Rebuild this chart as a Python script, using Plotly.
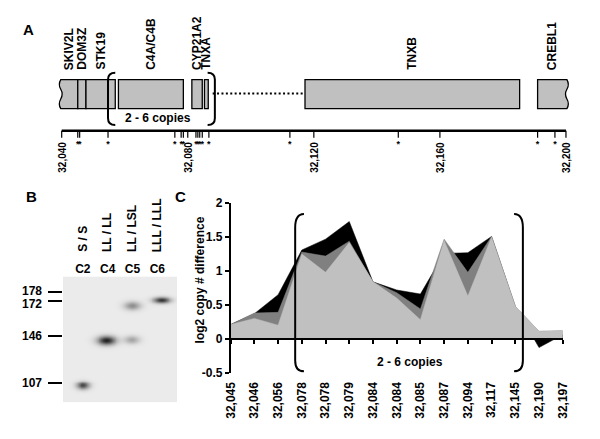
import numpy as np
import plotly.graph_objects as go

W, H = 600, 439
FONT = "Liberation Sans, Arial, Helvetica, sans-serif"

# ---------------- Panel A data (gene map, kb) ----------------
gene_names = ["SKIV2L", "DOM3Z", "STK19", "C4A/C4B", "CYP21A2", "TNXA", "TNXB", "CREBL1"]
gene_start_kb = [32039.7, 32045.1, 32047.7, 32058.0, 32081.3, 32085.3, 32117.2, 32191.0]
gene_end_kb = [32045.1, 32047.7, 32057.0, 32078.6, 32084.6, 32086.5, 32185.3, 32200.3]
gap_kb = [32087.9, 32117.2]
copy_region_kb = [32054.7, 32088.6]
scale_ticks_kb = [32040, 32080, 32120, 32160, 32200]
scale_tick_labels = ["32,040", "32,080", "32,120", "32,160", "32,200"]
probe_map_kb = [32045.1, 32045.7, 32054.7, 32075.9, 32077.9, 32078.6, 32082.6, 32083.2,
                32083.8, 32084.6, 32086.7, 32112.4, 32146.8, 32191.0, 32196.5]

# ---------------- Panel B data (gel) ----------------
lane_names = ["C2", "C4", "C5", "C6"]
lane_genotypes = ["S / S", "LL / LL", "LL / LSL", "LLL / LLL"]
marker_sizes = ["178", "172", "146", "107"]
marker_migration = [1.57, 2.57, 6.17, 11.0]
band_lane = [0.0, 0.95, 1.99, 1.97, 3.17]
band_migration = [11.24, 6.57, 3.0, 6.5, 2.44]
band_intensity = [0.80, 0.97, 0.48, 0.36, 0.90]

# ---------------- Panel C data ----------------
probe_labels = ["32,045", "32,046", "32,056", "32,078", "32,078", "32,079", "32,084", "32,084",
                "32,085", "32,087", "32,094", "32,117", "32,145", "32,190", "32,197"]
series_black = [0.21, 0.37, 0.65, 1.31, 1.47, 1.73, 0.84, 0.72, 0.66, 1.26, 1.27, 1.51, 0.48, -0.13, 0.06]
series_dark = [0.21, 0.38, 0.39, 1.28, 1.22, 1.44, 0.84, 0.68, 0.44, 1.47, 0.98, 1.51, 0.48, 0.11, 0.12]
series_light = [0.21, 0.30, 0.20, 1.25, 0.98, 1.42, 0.84, 0.60, 0.28, 1.45, 0.63, 1.50, 0.48, 0.11, 0.12]

# ---------------- helpers ----------------
def px_x(p):
    return p / W

def px_y(p):
    return 1 - p / H

def b(t):
    return f"<b>{t}</b>"

FNT = dict(family=FONT, color="black")

fig = go.Figure()

# ================= Panel C =================
xc = list(range(len(probe_labels)))
for vals, col in [(series_black, "#000000"), (series_dark, "#808080"), (series_light, "#c0c0c0")]:
    fig.add_trace(go.Scatter(x=xc, y=vals, mode="lines", fill="tozeroy", fillcolor=col,
                             line=dict(color=col, width=0.5), hoverinfo="skip",
                             showlegend=False, xaxis="x", yaxis="y"))
fig.add_trace(go.Scatter(x=[0], y=[0], mode="markers", marker=dict(opacity=0),
                         hoverinfo="skip", showlegend=False, xaxis="x2", yaxis="y"))

yc_dom = [px_y(377.7), px_y(202.7)]
yc_rng = [-0.5, 2.0]
zero_pos = yc_dom[0] + (0 - yc_rng[0]) / (yc_rng[1] - yc_rng[0]) * (yc_dom[1] - yc_dom[0])

# ================= Panel A =================
PXKB = 3.227
X0PX = 56.0
xa_rng = [32033.0, 32207.0]
xa_dom = [(X0PX + (xa_rng[0] - 32040) * PXKB) / W, (X0PX + (xa_rng[1] - 32040) * PXKB) / W]
YA_BOT = 180.0
BOX_T, BOX_B = 75.0, 105.0
AX_Y = 127.7

fig.add_trace(go.Scatter(x=[scale_ticks_kb[0], scale_ticks_kb[-1]], y=[AX_Y, AX_Y], mode="lines",
                         line=dict(color="black", width=2.5), hoverinfo="skip",
                         showlegend=False, xaxis="x3", yaxis="y3"))
tx, ty = [], []
for v in scale_ticks_kb + probe_map_kb:
    tx += [v, v, None]
    ty += [AX_Y, AX_Y + 7.3, None]
fig.add_trace(go.Scatter(x=tx, y=ty, mode="lines", line=dict(color="black", width=1.2),
                         hoverinfo="skip", showlegend=False, xaxis="x3", yaxis="y3"))
fig.add_trace(go.Scatter(x=probe_map_kb, y=[142.3] * len(probe_map_kb), mode="text",
                         text=[b("*")] * len(probe_map_kb), textposition="middle center",
                         textfont=dict(size=9, **FNT),
                         cliponaxis=False, hoverinfo="skip", showlegend=False,
                         xaxis="x3", yaxis="y3"))

shapes = []
GENE_FILL = "#c0c0c0"
wav = 0.9
for i, (nm, s, e) in enumerate(zip(gene_names, gene_start_kb, gene_end_kb)):
    if i == 0:
        path = (f"M {e},{BOX_T} L {s},{BOX_T} Q {s-wav},{BOX_T+5} {s},{BOX_T+10} "
                f"Q {s+wav},{BOX_T+15} {s},{BOX_T+20} Q {s-wav},{BOX_T+25} {s},{BOX_B} "
                f"L {e},{BOX_B} Z")
        shapes.append(dict(type="path", path=path, xref="x3", yref="y3",
                           fillcolor=GENE_FILL, line=dict(color="black", width=1.3)))
    elif i == len(gene_names) - 1:
        path = (f"M {s},{BOX_T} L {e},{BOX_T} Q {e+wav},{BOX_T+5} {e},{BOX_T+10} "
                f"Q {e-wav},{BOX_T+15} {e},{BOX_T+20} Q {e+wav},{BOX_T+25} {e},{BOX_B} "
                f"L {s},{BOX_B} Z")
        shapes.append(dict(type="path", path=path, xref="x3", yref="y3",
                           fillcolor=GENE_FILL, line=dict(color="black", width=1.3)))
    else:
        shapes.append(dict(type="rect", x0=s, x1=e, y0=BOX_T, y1=BOX_B, xref="x3", yref="y3",
                           fillcolor=GENE_FILL, line=dict(color="black", width=1.3)))
shapes.append(dict(type="line", x0=gap_kb[0], x1=gap_kb[1], y0=89.3, y1=89.3, xref="x3", yref="y3",
                   line=dict(color="black", width=2, dash="2px,2.4px")))
xl, xr = copy_region_kb
cdx, bt, bb = 2.3, 68.0, 122.0
shapes.append(dict(type="path", xref="x3", yref="y3", line=dict(color="black", width=2),
                   path=f"M {xl+cdx},{bt} Q {xl},{bt} {xl},{bt+7} L {xl},{bb-7} Q {xl},{bb} {xl+cdx},{bb}"))
shapes.append(dict(type="path", xref="x3", yref="y3", line=dict(color="black", width=2),
                   path=f"M {xr-cdx},{bt} Q {xr},{bt} {xr},{bt+7} L {xr},{bb-7} Q {xr},{bb} {xr-cdx},{bb}"))

cl, cr = 2.72, 12.32
cdc = 0.37
ct, cb = 1.84, -0.48
shapes.append(dict(type="path", xref="x", yref="y", line=dict(color="black", width=2),
                   path=f"M {cl+cdc},{ct} Q {cl},{ct} {cl},{ct-0.2} L {cl},{cb+0.16} Q {cl},{cb} {cl+cdc},{cb}"))
shapes.append(dict(type="path", xref="x", yref="y", line=dict(color="black", width=2),
                   path=f"M {cr-cdc},{ct} Q {cr},{ct} {cr},{ct-0.2} L {cr},{cb+0.16} Q {cr},{cb} {cr-cdc},{cb}"))

# ================= Panel B =================
band_sx = [0.26, 0.37, 0.33, 0.31, 0.34]
band_sy = [0.40, 0.45, 0.42, 0.40, 0.30]
gx = np.linspace(-0.8, 3.8, 236)
gy = np.linspace(0, 13, 131)
GX, GY = np.meshgrid(gx, gy)
Z = np.zeros_like(GX)
for lx, my, inten, sx, sy in zip(band_lane, band_migration, band_intensity, band_sx, band_sy):
    Z += inten * np.exp(-((GX - lx) / sx) ** 2 - ((GY - my) / sy) ** 2)
Z = np.clip(Z, 0, 1)
fig.add_trace(go.Heatmap(x=gx, y=gy, z=Z, zmin=0, zmax=1, showscale=False, zsmooth="best",
                         colorscale=[[0, "#ebebeb"], [0.5, "#8a8a8a"], [1, "#1a1a1a"]],
                         hoverinfo="skip", xaxis="x4", yaxis="y4"))

annotations = []
for nm, s, e in zip(gene_names, gene_start_kb, gene_end_kb):
    annotations.append(dict(x=(s + e) / 2, y=66, xref="x3", yref="y3", text=b(nm), textangle=-90,
                            showarrow=False, xanchor="center", yanchor="bottom",
                            font=dict(size=12, **FNT), borderpad=0))
for v, t in zip(scale_ticks_kb, scale_tick_labels):
    annotations.append(dict(x=v, y=172.0, xref="x3", yref="y3", text=b(t), textangle=-90,
                            showarrow=False, xanchor="center", yanchor="bottom",
                            font=dict(size=10, **FNT), borderpad=0))
annotations.append(dict(x=(xl + xr) / 2 - 1.2, y=115, xref="x3", yref="y3", text=b("2 - 6 copies"),
                        showarrow=False, xanchor="center", yanchor="middle",
                        font=dict(size=12, **FNT)))
annotations.append(dict(x=7.57, y=-0.343, xref="x", yref="y", text=b("2 - 6 copies"),
                        showarrow=False, xanchor="center", yanchor="middle",
                        font=dict(size=12, **FNT)))
for i, g in enumerate(lane_genotypes):
    annotations.append(dict(x=i, y=px_y(254), xref="x4", yref="paper", text=b(g), textangle=-90,
                            showarrow=False, xanchor="center", yanchor="bottom",
                            font=dict(size=12, **FNT), borderpad=0))
marker_label_shift = [1, -3, 0, 0]
for m, t, sh in zip(marker_migration, marker_sizes, marker_label_shift):
    annotations.append(dict(x=px_x(37.5), y=m, xref="paper", yref="y4", text=b(t), yshift=sh,
                            showarrow=False, xanchor="right", yanchor="middle",
                            font=dict(size=12, **FNT)))
annotations.append(dict(x=px_x(198), y=px_y(282), xref="paper", yref="paper",
                        text=b("log2 copy # difference"), textangle=-90, showarrow=False,
                        xanchor="center", yanchor="middle", font=dict(size=12, **FNT)))
for lt, xp, yp in [("A", 22, 23), ("B", 25, 196), ("C", 178, 196)]:
    annotations.append(dict(x=px_x(xp), y=px_y(yp), xref="paper", yref="paper", text=b(lt),
                            showarrow=False, xanchor="center", yanchor="middle",
                            font=dict(size=15, **FNT)))

fig.update_layout(
    width=W, height=H, margin=dict(l=0, r=0, t=0, b=0), autosize=False,
    paper_bgcolor="white", plot_bgcolor="rgba(0,0,0,0)",
    font=dict(family=FONT, color="black"),
    showlegend=False,
    xaxis=dict(domain=[px_x(229), px_x(569)], range=[0, len(probe_labels) - 1], anchor="y",
               tickvals=xc, ticktext=[b(t) for t in probe_labels], tickangle=-90, ticks="",
               showline=False, showgrid=False, zeroline=False, tickfont=dict(size=12, **FNT),
               ticklabelstandoff=6),
    xaxis2=dict(overlaying="x", anchor="free", position=zero_pos, range=[0, len(probe_labels) - 1],
                tickvals=xc, showticklabels=False, ticks="outside", ticklen=4, tickwidth=1.5,
                tickcolor="black", showline=True, linecolor="black", linewidth=1.5,
                showgrid=False, zeroline=False),
    yaxis=dict(domain=yc_dom, range=yc_rng, anchor="x", tickvals=[-0.5, 0, 0.5, 1, 1.5, 2],
               ticktext=[b(t) for t in ["-0.5", "0", "0.5", "1", "1.5", "2"]], ticks="outside",
               ticklen=4, tickwidth=1.5, tickcolor="black", showline=True, linecolor="black",
               linewidth=1.5, showgrid=False, zeroline=False, tickfont=dict(size=12, **FNT)),
    xaxis3=dict(domain=xa_dom, range=xa_rng, anchor="y3", showticklabels=False, ticks="",
                showline=False, showgrid=False, zeroline=False),
    yaxis3=dict(domain=[px_y(YA_BOT), 1], range=[YA_BOT, 0], anchor="x3", visible=False),
    xaxis4=dict(domain=[px_x(57.3), px_x(174.3)], range=[-0.8, 3.8], anchor="y4", side="top",
                tickvals=list(range(len(lane_names))), ticktext=[b(t) for t in lane_names],
                ticks="", showline=False, showgrid=False, zeroline=False,
                tickfont=dict(size=12, **FNT)),
    yaxis4=dict(domain=[px_y(408.3), px_y(278.3)], range=[13, 0], anchor="x4",
                tickvals=marker_migration, showticklabels=False, ticks="outside", ticklen=14,
                tickwidth=2, tickcolor="black", showline=False, showgrid=False, zeroline=False),
    shapes=shapes, annotations=annotations,
)

fig.write_html("out.html", config={"displayModeBar": False},
               post_script="document.body.style.margin='0px';document.body.style.padding='0px';")
